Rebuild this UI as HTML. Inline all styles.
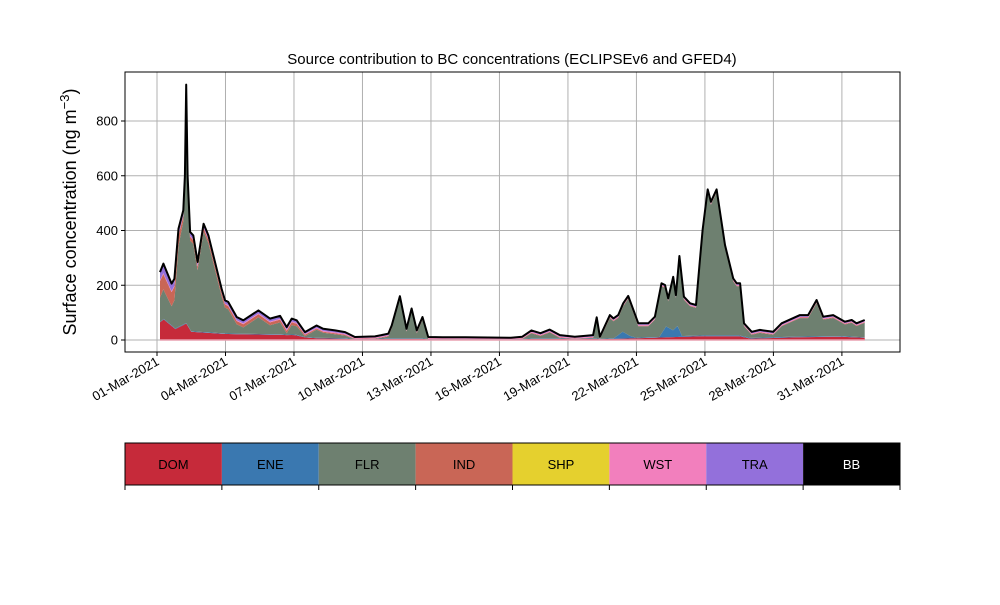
<!DOCTYPE html>
<html><head><meta charset="utf-8"><style>
body{margin:0;background:#fff;font-family:"Liberation Sans",sans-serif}
svg text{font-family:"Liberation Sans",sans-serif}
</style></head><body>
<svg id="c" width="1000" height="600" viewBox="0 0 1000 600"></svg>
<script>
// time in days since 01-Mar-2021 00:00
const totT=[0.13,0.28,0.64,0.76,0.94,1.15,1.22,1.28,1.34,1.45,1.59,1.78,2.04,2.25,2.83,2.98,3.12,3.49,3.78,4.44,4.95,5.39,5.68,5.9,6.12,6.48,6.99,7.28,7.8,8.24,8.67,9.55,10.13,10.28,10.64,10.93,11.15,11.38,11.63,11.88,12.5,13.5,14.5,15.5,16.0,16.4,16.8,17.2,17.65,18.3,19.1,19.26,19.4,19.84,19.99,20.2,20.42,20.64,21.08,21.52,21.81,22.1,22.25,22.39,22.61,22.73,22.88,23.08,23.35,23.61,23.78,23.9,24.12,24.26,24.51,24.88,25.24,25.39,25.54,25.71,26.05,26.41,26.99,27.36,28.16,28.52,28.89,29.18,29.62,30.13,30.43,30.64,31.0];
const total=[248,279,206,224,407,474,600,933,600,395,382,285,425,382,187,145,139,84,72,108,78,88,47,78,72,29,53,41,35,29,11,13,23,53,160,41,115,35,84,11,10,10,9,8,12,35,25,38,18,12,18,83,12,91,79,91,134,161,61,61,85,207,201,152,231,164,307,158,134,128,292,402,550,505,550,347,225,207,207,61,30,37,30,61,91,91,146,85,91,67,73,61,73];
const domT=[0.13,0.3,0.8,1.28,1.5,3,6,7,9,20,24,25.5,26,28,30,31];
const dom=[65,75,40,60,30,22,18,6,4,4,14,14,5,10,12,8];
const eneT=[0.13,6,20,20.4,20.7,21,22,22.3,22.6,22.8,23,31];
const ene=[2,2,2,25,10,2,2,40,25,40,3,2];
const indT=[0.13,0.3,0.8,1.2,2,3,6,7,10,31];
const ind=[60,55,50,15,12,12,10,4,2,2];
const traT=[0.13,0.3,0.8,1.3,3,6,7,10,28,31];
const tra=[30,35,25,15,12,10,8,5,6,5];
const xTicks=["01-Mar-2021","04-Mar-2021","07-Mar-2021","10-Mar-2021","13-Mar-2021","16-Mar-2021","19-Mar-2021","22-Mar-2021","25-Mar-2021","28-Mar-2021","31-Mar-2021"];
const xTickDays=[0,3,6,9,12,15,18,21,24,27,30];
const yTicks=[0,200,400,600,800];
const legendNames=["DOM","ENE","FLR","IND","SHP","WST","TRA","BB"];
const legendColors=["#c62a3a","#3a78b0","#6e8070","#c96656","#e5d02e","#f27fbd","#9370db","#000000"];

const svg=document.getElementById('c');const NS="http://www.w3.org/2000/svg";
function mk(tag,at,parent){const e=document.createElementNS(NS,tag);for(const k in at)e.setAttribute(k,at[k]);(parent||svg).appendChild(e);return e;}
const X0=125,X1=900,Y0=72,Y1=352;
const xs=d=>157+d*22.83;
const ys=v=>340-v*0.27375;
function interp(T,V,t){if(t<=T[0])return V[0];for(let i=1;i<T.length;i++){if(t<=T[i]){const f=(t-T[i-1])/(T[i]-T[i-1]);return V[i-1]+f*(V[i]-V[i-1]);}}return V[V.length-1];}
// grid
for(const d of xTickDays){const l=mk('line',{x1:xs(d),x2:xs(d),y1:Y0,y2:Y1,stroke:'#b0b0b0','stroke-width':1});

}
for(const v of yTicks){const l=mk('line',{x1:X0,x2:X1,y1:ys(v),y2:ys(v),stroke:'#b0b0b0','stroke-width':1});

}
// stacks
const ts=[];{const s=new Set(totT);[domT,eneT,indT,traT].forEach(a=>a.forEach(t=>{if(t>=totT[0]&&t<=totT[totT.length-1])s.add(t)}));ts.push(...[...s].sort((a,b)=>a-b));}
const layers=ts.map(t=>{const T=interp(totT,total,t);let d=interp(domT,dom,t),e=interp(eneT,ene,t),i=interp(indT,ind,t),r=interp(traT,tra,t);
let sc=Math.min(1,(T*0.9)/(d+e+i+r+3));d*=sc;e*=sc;i*=sc;r*=sc;
const c0=d,c1=c0+e,c4=T,c3=T-r,c2=c3-3,cI=c2-i;return [0,c0,c1,Math.max(cI,c1),Math.max(c2,c1),Math.max(c3,c1),c4];});
const fills=[["dom-area","#c62a3a",0,1],["ene-area","#3a78b0",1,2],["flr-area","#6e8070",2,3],["ind-area","#c96656",3,4],["wst-area","#f27fbd",4,5],["tra-area","#9370db",5,6]];
for(const [n,col,a,b] of fills){let p="M"+ts.map((t,k)=>xs(t).toFixed(1)+","+ys(layers[k][b]).toFixed(1)).join("L");
for(let k=ts.length-1;k>=0;k--)p+="L"+xs(ts[k]).toFixed(1)+","+ys(layers[k][a]).toFixed(1);
const e=mk('path',{d:p+"Z",fill:col,stroke:'none'});

}
const base=mk('line',{x1:xs(totT[0]),x2:xs(totT[totT.length-1]),y1:ys(0),y2:ys(0),stroke:'#e8a0b0','stroke-width':1.5});


const tl=mk('path',{d:"M"+totT.map((t,k)=>xs(t).toFixed(1)+","+ys(total[k]).toFixed(1)).join("L"),fill:'none',stroke:'#000','stroke-width':2,'stroke-linejoin':'round'});


// frame
const fr=mk('rect',{x:X0,y:Y0,width:X1-X0,height:Y1-Y0,fill:'none',stroke:'#000','stroke-width':1});


// ticks
xTickDays.forEach((d,i)=>{mk('line',{x1:xs(d),x2:xs(d),y1:Y1,y2:Y1+4,stroke:'#000'});
const t=mk('text',{x:xs(d)+3,y:Y1+12,'font-size':13,'text-anchor':'end',transform:`rotate(-30 ${xs(d)+3} ${Y1+12})`});t.textContent=xTicks[i];

});
yTicks.forEach(v=>{mk('line',{x1:X0-4,x2:X0,y1:ys(v),y2:ys(v),stroke:'#000'});
const t=mk('text',{x:X0-7,y:ys(v)+4.5,'font-size':13,'text-anchor':'end'});t.textContent=v;

});
const ti=mk('text',{x:512,y:64,'font-size':15,'text-anchor':'middle'});ti.textContent="Source contribution to BC concentrations (ECLIPSEv6 and GFED4)";


const yl=mk('text',{x:76,y:212,'font-size':18,'text-anchor':'middle',transform:'rotate(-90 76 212)'});
yl.innerHTML='Surface concentration (ng m<tspan dy="-7" font-size="13">−3</tspan><tspan dy="7">)</tspan>';


// legend colorbar
const w=(X1-X0)/legendNames.length;
legendNames.forEach((n,i)=>{const r=mk('rect',{x:X0+i*w,y:443,width:w,height:42,fill:legendColors[i]});


const t=mk('text',{x:X0+i*w+w/2,y:469,'font-size':13,'text-anchor':'middle',fill:n==="BB"?"#fff":"#000"});t.textContent=n;

});
for(let i=0;i<=legendNames.length;i++)mk('line',{x1:X0+i*w,x2:X0+i*w,y1:485,y2:490,stroke:'#000'});
const lb=mk('rect',{x:X0,y:443,width:X1-X0,height:42,fill:'none',stroke:'#000','stroke-width':1});


</script>
</body></html>
